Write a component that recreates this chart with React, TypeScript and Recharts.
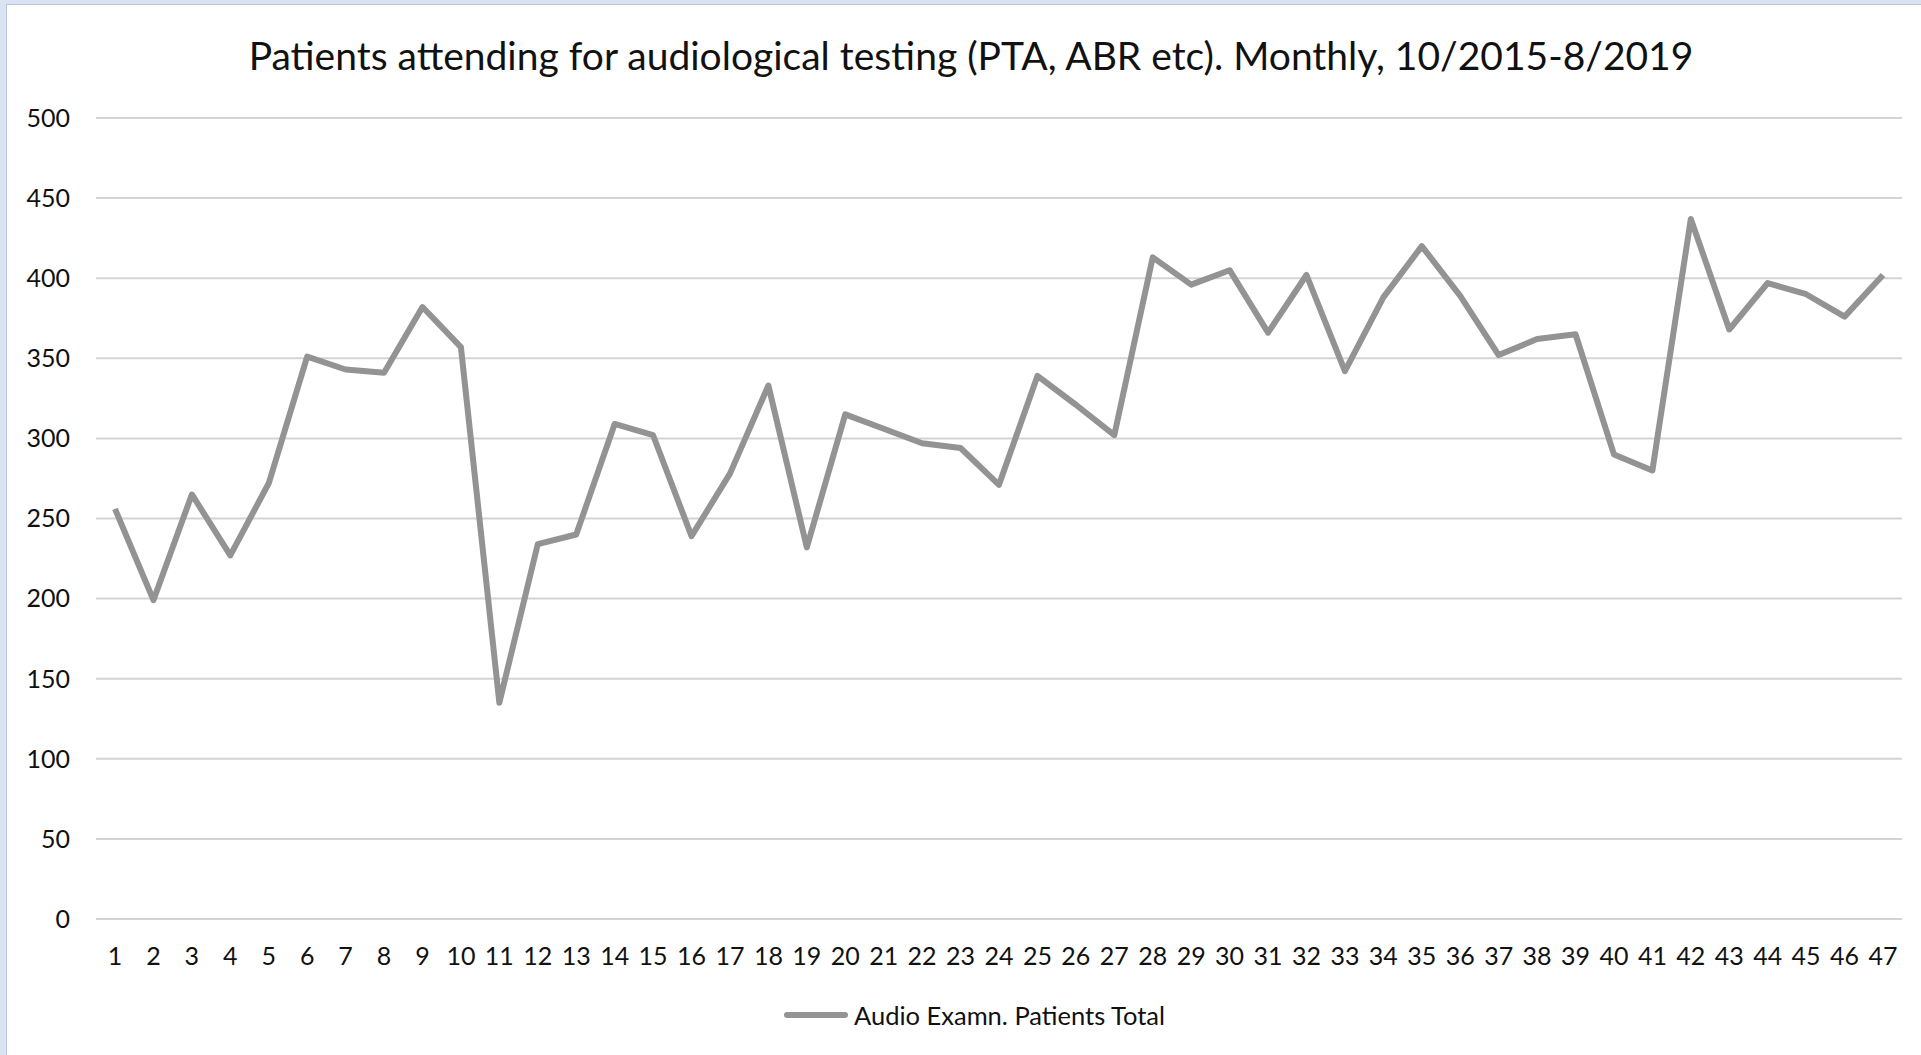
import { CartesianGrid, Legend, Line, LineChart, XAxis, YAxis } from "recharts";

const months = [
  1, 2, 3, 4, 5, 6, 7, 8, 9, 10, 11, 12, 13, 14, 15, 16, 17, 18, 19, 20, 21, 22, 23, 24,
  25, 26, 27, 28, 29, 30, 31, 32, 33, 34, 35, 36, 37, 38, 39, 40, 41, 42, 43, 44, 45, 46, 47,
];

const patientsTotal = [
  256, 199, 265, 227, 272, 351, 343, 341, 382, 357, 135, 234, 240, 309, 302, 239, 278, 333,
  232, 315, 306, 297, 294, 271, 339, 321, 302, 413, 396, 405, 366, 402, 342, 388, 420, 389,
  352, 362, 365, 290, 280, 437, 368, 397, 390, 376, 402,
];

const yTicks = [0, 50, 100, 150, 200, 250, 300, 350, 400, 450, 500];

const seriesName = "Audio Examn. Patients Total";
const title =
  "Patients attending for audiological testing (PTA, ABR etc). Monthly, 10/2015-8/2019";

const data = months.map((m, i) => ({ month: m, total: patientsTotal[i] }));

const FONT = "Lato, 'Open Sans', sans-serif";
const LINE_COLOR = "#939393";

const LegendContent = () => (
  <div style={{ display: "flex", alignItems: "center", fontFamily: FONT, fontSize: 25.5, color: "#111" }}>
    <span
      style={{
        display: "inline-block",
        width: 64,
        height: 6,
        borderRadius: 3,
        background: LINE_COLOR,
        marginRight: 6,
      }}
    />
    <span>{seriesName}</span>
  </div>
);

const App = () => {
  return (
    <div
      style={{
        position: "absolute",
        left: 0,
        top: 0,
        width: 1921,
        height: 1055,
        background: "#d9e3f2",
        overflow: "hidden",
      }}
    >
      <div
        style={{
          position: "absolute",
          left: 6,
          top: 4,
          right: 0,
          bottom: 0,
          background: "#fff",
          borderLeft: "1px solid #b9c6da",
          borderTop: "1px solid #b9c6da",
        }}
      />
      <div
        style={{
          position: "absolute",
          left: 971,
          top: 32,
          transform: "translateX(-50%)",
          whiteSpace: "nowrap",
          fontFamily: FONT,
          fontSize: 39,
          lineHeight: "47px",
          color: "#111",
        }}
      >
        {title}
      </div>
      <div style={{ position: "absolute", left: 0, top: 0 }}>
        <LineChart
          width={1921}
          height={1055}
          data={data}
          margin={{ top: 118, right: 19, left: 0, bottom: 76 }}
        >
          <CartesianGrid vertical={false} stroke="#d4d4d4" strokeWidth={2} />
          <XAxis
            dataKey="month"
            interval={0}
            height={60}
            axisLine={false}
            tickLine={false}
            tickMargin={22}
            padding={{ left: 19, right: 19 }}
            tick={{ fill: "#111", fontFamily: FONT, fontSize: 25 }}
          />
          <YAxis
            width={96}
            domain={[0, 500]}
            ticks={yTicks}
            axisLine={false}
            tickLine={false}
            tickMargin={20}
            tick={{ fill: "#111", fontFamily: FONT, fontSize: 25 }}
          />
          <Legend
            verticalAlign="middle"
            align="center"
            layout="horizontal"
            content={<LegendContent />}
            wrapperStyle={{ top: 1000, left: 784, width: 460, height: 32 }}
          />
          <Line
            type="linear"
            dataKey="total"
            name={seriesName}
            stroke={LINE_COLOR}
            strokeWidth={6}
            strokeLinejoin="round"
            dot={false}
            activeDot={false}
            isAnimationActive={false}
          />
        </LineChart>
      </div>
    </div>
  );
};

export default App;
